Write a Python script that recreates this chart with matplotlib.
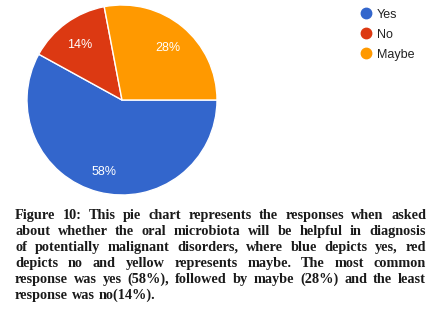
import matplotlib
matplotlib.use("Agg")
import matplotlib.pyplot as plt
from matplotlib.lines import Line2D
from matplotlib.transforms import offset_copy

categories = ["Yes", "No", "Maybe"]
values = [58, 14, 28]
colors = ["#3366CC", "#DC3912", "#FF9900"]

caption_lines = [
    "Figure 10: This pie chart represents the responses when asked",
    "about whether the oral microbiota will be helpful in diagnosis",
    "of potentially malignant disorders, where blue depicts yes, red",
    "depicts no and yellow represents maybe. The most common",
    "response was yes (58%), followed by maybe (28%) and the least",
    "response was no(14%).",
]

W, H = 436, 315
fig = plt.figure(figsize=(W / 100, H / 100), dpi=100)
fig.patch.set_facecolor("white")

# pie axes: center (122,100) from top, radius 95 px
cx, cy, r = 122, 100, 95
ax = fig.add_axes([(cx - r) / W, (H - cy - r) / H, 2 * r / W, 2 * r / H])
wedges, texts, autotexts = ax.pie(
    values, colors=colors, startangle=0, counterclock=False,
    autopct="%1.0f%%", pctdistance=0.75,
    wedgeprops=dict(edgecolor="white", linewidth=1.0),
    textprops=dict(color="white", fontsize=9, family="Liberation Sans"),
)
for t in autotexts:
    t.set_transform(offset_copy(t.get_transform(), fig=fig, x=0, y=-3, units="dots"))
ax.set_xlim(-1, 1)
ax.set_ylim(-1, 1)
ax.set_aspect("equal")
ax.axis("off")

handles = [Line2D([0], [0], marker="o", linestyle="none", markersize=7.5,
                  markerfacecolor=c, markeredgecolor=c) for c in colors]
leg = fig.legend(handles, categories, loc="upper left",
                 bbox_to_anchor=(352 / W, 1 - 1 / H), frameon=False,
                 prop=dict(family="Liberation Sans", size=9),
                 handlelength=1.0, handletextpad=0.4, labelspacing=0.65,
                 borderpad=0.1)
for t in leg.get_texts():
    t.set_color("#222222")

# justified caption
renderer = fig.canvas.get_renderer()
left, right = 15, 426
base0, step = 219, 16
fprops = dict(family="Liberation Serif", weight="bold", size=10.3, color="#1a1a1a")
for i, line in enumerate(caption_lines):
    words = line.split(" ")
    y = 1 - (base0 + i * step) / H
    objs = [fig.text(0, y, w, va="baseline", ha="left", **fprops) for w in words]
    widths = [o.get_window_extent(renderer).width for o in objs]
    last = i == len(caption_lines) - 1
    if last or len(words) == 1:
        sp = objs[0].get_fontsize() * 0.25 * 100 / 72
    else:
        sp = (right - left - sum(widths)) / (len(words) - 1)
    x = left
    for o, wd in zip(objs, widths):
        o.set_x(x / W)
        x += wd + sp

fig.savefig("out.png", dpi=100)
